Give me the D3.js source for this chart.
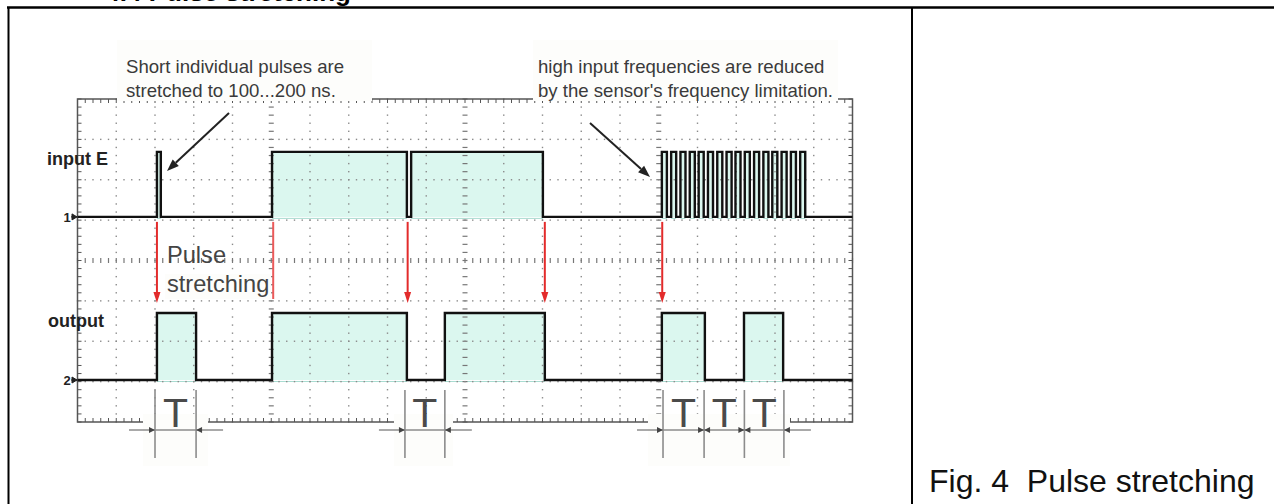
<!DOCTYPE html>
<html>
<head>
<meta charset="utf-8">
<script src="https://cdn.jsdelivr.net/npm/d3@7"></script>
<style>
  body { margin: 0; background: #fff; }
  svg { display: block; font-family: "Liberation Sans", Arial, sans-serif; }
</style>
</head>
<body>
<svg width="1274" height="504"></svg>
<script>
// time axis in scope grid units (0..20), vertical in divisions (+4 top .. -4 bottom)
var inputPulses = [[2.05, 2.15], [5.02, 8.50], [8.61, 12.01]];
var burstPulses = [
    [15.08, 15.21], [15.32, 15.45], [15.56, 15.69], [15.80, 15.93],
    [16.03, 16.16], [16.27, 16.40], [16.51, 16.64], [16.75, 16.88],
    [16.98, 17.11], [17.22, 17.35], [17.46, 17.59], [17.70, 17.83],
    [17.93, 18.06], [18.17, 18.30], [18.41, 18.54], [18.65, 18.78]
];
var outputPulses = [[2.05, 3.06], [5.02, 8.50], [9.48, 12.06], [15.08, 16.19], [17.20, 18.21]];

var channels = [
    { name: "input E", marker: "1", ground: 1.08, high: 2.69 },
    { name: "output", marker: "2", ground: -2.96, high: -1.30 }
];

var redArrows = [2.05, 8.52, 12.06, 15.09];   // with heads
var fadedArrow = 5.05;                         // partly hidden one
var tGroups = [[2.0, 3.06], [8.45, 9.48], [15.11, 16.17, 17.21, 18.23]];

var noteLeft = ["Short individual pulses are", "stretched to 100...200 ns."];
var noteRight = ["high input frequencies are reduced", "by the sensor's frequency limitation."];
var stretchLabel = ["Pulse", "stretching"];
var caption = "Fig. 4  Pulse stretching";
var title = "4.4 Pulse stretching";

var svg = d3.select("svg");

var x = d3.scaleLinear().domain([0, 20]).range([77.5, 852.5]);
var y = d3.scaleLinear().domain([4, -4]).range([99, 422]);

var fillColor = "#dbf7ef";
var dotColor = "#8a8a8a";

// ---- pulse fills (under the graticule)
var fills = svg.append("g");
channels.forEach(function (ch, i) {
    var pulses = i == 0 ? inputPulses.concat(burstPulses) : outputPulses;
    fills.selectAll(null)
        .data(pulses)
        .enter()
        .append("rect")
        .attr("x", d => x(d[0]))
        .attr("y", y(ch.high))
        .attr("width", d => x(d[1]) - x(d[0]))
        .attr("height", y(ch.ground) - y(ch.high))
        .style("fill", fillColor);
    fills.selectAll(null)
        .data(pulses)
        .enter()
        .append("line")
        .attr("x1", d => x(d[0]))
        .attr("x2", d => x(d[1]))
        .attr("y1", y(ch.ground) + 1.5)
        .attr("y2", y(ch.ground) + 1.5)
        .style("stroke", "#a9dcd1")
        .style("stroke-width", 1);
});

// ---- graticule
var grid = svg.append("g");
var subX = (x(1) - x(0)) / 5, subY = (y(0) - y(1)) / 5;
var ys = d3.range(y(4), y(-4) + 0.1, subY);
var xs = d3.range(x(0), x(20) + 0.1, subX);

d3.range(1, 20).forEach(function (c) {
    var cx = x(c);
    if (c % 5 == 0) {
        grid.selectAll(null).data(ys).enter().append("line")
            .attr("x1", cx - 2.5).attr("x2", cx + 2.5)
            .attr("y1", d => d).attr("y2", d => d)
            .style("stroke", "#777").style("stroke-width", 1.2);
    } else {
        grid.selectAll(null).data(ys).enter().append("rect")
            .attr("x", cx - 0.7).attr("y", d => d - 0.7)
            .attr("width", 1.4).attr("height", 1.4)
            .style("fill", dotColor);
    }
});
d3.range(-3, 4).forEach(function (r) {
    var ry = y(r);
    if (r == 0) {
        grid.selectAll(null).data(xs).enter().append("line")
            .attr("x1", d => d).attr("x2", d => d)
            .attr("y1", ry - 2.5).attr("y2", ry + 2.5)
            .style("stroke", "#777").style("stroke-width", 1.2);
    } else {
        grid.selectAll(null).data(xs).enter().append("rect")
            .attr("x", d => d - 0.7).attr("y", ry - 0.7)
            .attr("width", 1.4).attr("height", 1.4)
            .style("fill", dotColor);
    }
});

// border with inward ticks
grid.append("rect")
    .attr("x", x(0)).attr("y", y(4))
    .attr("width", x(20) - x(0)).attr("height", y(-4) - y(4))
    .style("fill", "none").style("stroke", "#555").style("stroke-width", 1.5);
grid.selectAll(null).data(ys).enter().append("line")
    .attr("x1", x(0)).attr("x2", x(0) + 4)
    .attr("y1", d => d).attr("y2", d => d)
    .style("stroke", "#555");
grid.selectAll(null).data(ys).enter().append("line")
    .attr("x1", x(20) - 4).attr("x2", x(20))
    .attr("y1", d => d).attr("y2", d => d)
    .style("stroke", "#555");
grid.selectAll(null).data(xs).enter().append("line")
    .attr("x1", d => d).attr("x2", d => d)
    .attr("y1", y(4)).attr("y2", y(4) + 4)
    .style("stroke", "#555");
grid.selectAll(null).data(xs).enter().append("line")
    .attr("x1", d => d).attr("x2", d => d)
    .attr("y1", y(-4) - 4).attr("y2", y(-4))
    .style("stroke", "#555");

// ---- traces
function stepPoints(pulses, ch) {
    var pts = [[0, ch.ground]];
    pulses.forEach(function (p) {
        pts.push([p[0], ch.ground], [p[0], ch.high], [p[1], ch.high], [p[1], ch.ground]);
    });
    pts.push([20, ch.ground]);
    return pts;
}
var line = d3.line().x(d => x(d[0])).y(d => y(d[1]));

svg.append("path")
    .attr("d", line(stepPoints(inputPulses.concat(burstPulses), channels[0])))
    .style("fill", "none").style("stroke", "#111").style("stroke-width", 2.4);
svg.append("path")
    .attr("d", line(stepPoints(outputPulses, channels[1])))
    .style("fill", "none").style("stroke", "#111").style("stroke-width", 2.4);

// channel labels and ground markers
channels.forEach(function (ch) {
    var gy = y(ch.ground);
    svg.append("text")
        .attr("x", 67).attr("y", gy + 5)
        .attr("text-anchor", "middle")
        .style("font-size", "13px").style("font-weight", "bold").style("fill", "#222")
        .text(ch.marker);
    svg.append("path")
        .attr("d", "M71," + gy + "H77M72," + (gy - 3) + "L77," + gy + "L72," + (gy + 3) + "Z")
        .style("fill", "#222").style("stroke", "#222").style("stroke-width", 1);
});
svg.append("text").attr("x", 47).attr("y", 165)
    .style("font-size", "18px").style("font-weight", "bold").style("fill", "#222")
    .text(channels[0].name);
svg.append("text").attr("x", 48).attr("y", 327)
    .style("font-size", "18px").style("font-weight", "bold").style("fill", "#222")
    .text(channels[1].name);

// ---- red arrows
var arrowTop = y(channels[0].ground) + 5;
var arrowTip = y(channels[1].high) - 10;
redArrows.forEach(function (t) {
    var ax = x(t);
    svg.append("line")
        .attr("x1", ax).attr("x2", ax)
        .attr("y1", arrowTop).attr("y2", arrowTip - 8)
        .style("stroke", "#e32b2b").style("stroke-width", 2);
    svg.append("path")
        .attr("d", "M" + (ax - 3.5) + "," + (arrowTip - 11) + "L" + (ax + 3.5) + "," + (arrowTip - 11) + "L" + ax + "," + arrowTip + "Z")
        .style("fill", "#e32b2b");
});
svg.append("line")
    .attr("x1", x(fadedArrow)).attr("x2", x(fadedArrow))
    .attr("y1", arrowTop).attr("y2", arrowTip - 4)
    .style("stroke", "#ea5a5a").style("stroke-width", 2);

// ---- white boxes behind annotations
var boxes = [[117, 40, 372, 101], [533, 40, 838, 101], [165, 274, 271, 299],
             [143, 414, 208, 466], [394, 414, 453, 466], [648, 414, 790, 466]];
svg.selectAll(null).data(boxes).enter().append("rect")
    .attr("x", d => d[0]).attr("y", d => d[1])
    .attr("width", d => d[2] - d[0]).attr("height", d => d[3] - d[1])
    .style("fill", "#fdfdfb");

// annotation texts
function textLines(lines, tx, ty, dy, size, color) {
    lines.forEach(function (s, i) {
        svg.append("text")
            .attr("x", tx).attr("y", ty + i * dy)
            .style("font-size", size).style("fill", color)
            .text(s);
    });
}
textLines(noteLeft, 126, 73, 24, "18.6px", "#3a3a3a");
textLines(noteRight, 538, 73, 24, "18.6px", "#3a3a3a");
textLines(stretchLabel, 167, 263, 29, "23.6px", "#444");

// black pointer arrows
function pointer(x1, y1, x2, y2) {
    var a = Math.atan2(y2 - y1, x2 - x1), L = 12, W = 4.5;
    var bx = x2 - L * Math.cos(a), by = y2 - L * Math.sin(a);
    svg.append("line")
        .attr("x1", x1).attr("y1", y1).attr("x2", bx).attr("y2", by)
        .style("stroke", "#222").style("stroke-width", 2);
    svg.append("path")
        .attr("d", "M" + x2 + "," + y2 +
            "L" + (bx + W * Math.sin(a)) + "," + (by - W * Math.cos(a)) +
            "L" + (bx - W * Math.sin(a)) + "," + (by + W * Math.cos(a)) + "Z")
        .style("fill", "#222");
}
pointer(229, 113, 167, 171);
pointer(590, 123, 650, 177);

// ---- T period marks
var dimY = 430;
function head(px, dir) {
    svg.append("path")
        .attr("d", "M" + px + "," + dimY + "L" + (px - dir * 6) + "," + (dimY - 3) + "L" + (px - dir * 6) + "," + (dimY + 3) + "Z")
        .style("fill", "#444");
}
tGroups.forEach(function (g) {
    var px = g.map(x);
    svg.append("line")
        .attr("x1", px[0] - 26).attr("x2", px[px.length - 1] + 27)
        .attr("y1", dimY).attr("y2", dimY)
        .style("stroke", "#555").style("stroke-width", 1);
    px.forEach(function (p, i) {
        svg.append("line")
            .attr("x1", p).attr("x2", p).attr("y1", 390).attr("y2", 458)
            .style("stroke", "#8c8c8c").style("stroke-width", 1.6);
        if (i < px.length - 1) {
            head(p, 1);
            svg.append("text")
                .attr("x", (p + px[i + 1]) / 2).attr("y", 427)
                .attr("text-anchor", "middle")
                .style("font-size", "41px").style("fill", "#4a4a4a")
                .text("T");
        }
        if (i > 0) head(p, -1);
    });
});

// ---- page frame and caption
svg.append("text")
    .attr("x", 351).attr("y", 1)
    .attr("text-anchor", "end")
    .style("font-size", "26px").style("font-weight", "bold").style("fill", "#000")
    .text(title);
svg.append("line").attr("x1", 7).attr("x2", 1274).attr("y1", 7.5).attr("y2", 7.5)
    .style("stroke", "#000").style("stroke-width", 2.5);
svg.append("line").attr("x1", 8.5).attr("x2", 8.5).attr("y1", 7).attr("y2", 504)
    .style("stroke", "#000").style("stroke-width", 2);
svg.append("line").attr("x1", 912).attr("x2", 912).attr("y1", 7).attr("y2", 504)
    .style("stroke", "#000").style("stroke-width", 2);
svg.append("text")
    .attr("x", 929).attr("y", 492)
    .style("font-size", "32px").style("fill", "#111")
    .style("white-space", "pre")
    .text(caption);
</script>
</body>
</html>
